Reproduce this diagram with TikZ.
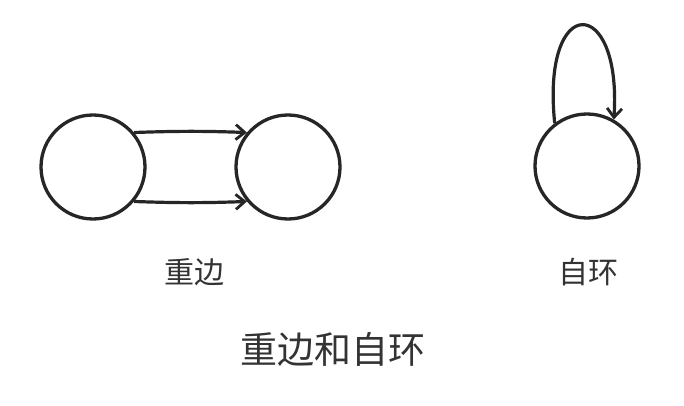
\documentclass[tikz,border=0pt]{standalone}
\usepackage{fontspec}
\newfontfamily\cjk{Noto Sans CJK SC}
\usetikzlibrary{arrows.meta}
\begin{document}
\begin{tikzpicture}[x=1pt,y=-1pt,
  vtx/.style={circle,draw=black!85,line width=3.3pt,minimum size=104pt,inner sep=0pt},
  edge/.style={draw=black!85,line width=3.2pt,-{Straight Barb[length=9pt,width=15pt,line width=2.8pt]}},
  lbl/.style={font=\cjk\fontsize{30}{32}\selectfont,text=black!80}]
\useasboundingbox[fill=white] (0,0) rectangle (684,406);
\node[vtx] (a) at (93,167) {};
\node[vtx] (b) at (288,167) {};
\node[vtx] (c) at (587,166) {};
\draw[edge] (a.40) to[bend left=2] (b.140);
\draw[edge] (a.-40) to[bend right=2] (b.-140);
\draw[edge] (c.127) .. controls (541,-8) and (622,-6) .. (c.60);
\node[lbl] (l1) at (194,272) {重边};
\node[lbl] (l2) at (588,272) {自环};
\node[lbl,font=\cjk\fontsize{37}{40}\selectfont] (t) at (333,349) {重边和自环};
\end{tikzpicture}
\end{document}
